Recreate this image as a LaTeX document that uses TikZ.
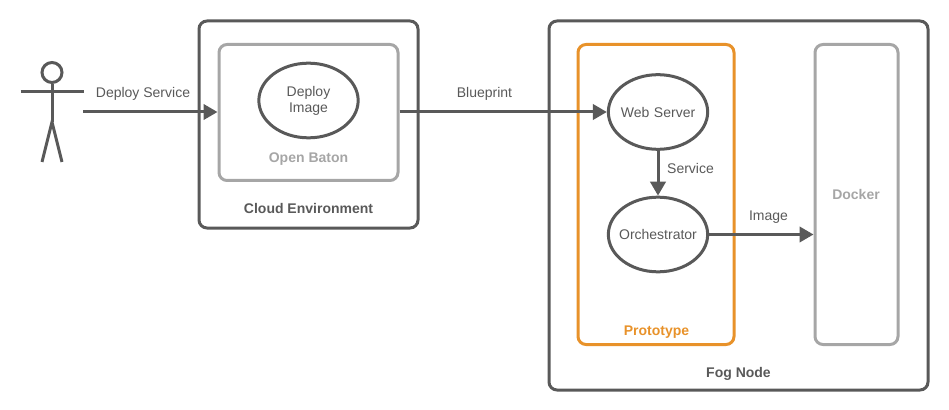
\documentclass[tikz,border=0pt]{standalone}
\usepackage{fontspec}
\setmainfont{Liberation Sans}
\usepackage{tikz}
\usetikzlibrary{arrows.meta}
\usetikzlibrary{shapes.geometric}
\definecolor{inkgray}{HTML}{595959}
\definecolor{softgray}{HTML}{A6A6A6}
\definecolor{protoorange}{HTML}{E8922A}

\begin{document}
\begin{tikzpicture}[x=75pt,y=-75pt]
    \useasboundingbox (0,0) rectangle (9.49,4.10);
    \begin{scope}[
        >={Triangle[length=10.5pt,width=11.5pt,inkgray]},
        every node/.style={font=\fontsize{10.5}{12}\selectfont,text=inkgray,align=center,inner sep=0pt},
        every edge/.style={draw=inkgray,line width=2.25pt},
        box/.style={draw,rounded corners=6pt,line width=2.25pt,minimum width=#1*75pt},
        box/.default=1,
        blob/.style={ellipse,draw=inkgray,line width=2.25pt,minimum width=74.5pt,minimum height=56pt,text width=40pt},
        stick/.style={draw=inkgray,line width=2.25pt}
        ]
        % outer boxes
        \node [box=2.19,draw=inkgray,minimum height=155.25pt] (cloud) at (3.085,1.245) {};
        \node [box=3.79,draw=inkgray,minimum height=276.75pt] (fog) at (7.385,2.055) {};
        % inner boxes
        \node [box=1.79,draw=softgray,minimum height=102pt] (baton) at (3.085,1.125) {};
        \node [box=1.56,draw=protoorange,minimum height=225pt] (proto) at (6.56,1.945) {};
        \node [box=0.83,draw=softgray,minimum height=225pt] (docker) at (8.565,1.945) {};
        % box labels
        \node [font=\fontsize{10.5}{12}\selectfont\bfseries] (cloudlabel) at (3.085,2.08) {Cloud Environment};
        \node [font=\fontsize{10.5}{12}\selectfont\bfseries] (foglabel) at (7.385,3.74) {Fog Node};
        \node [font=\fontsize{10.5}{12}\selectfont\bfseries,text=softgray] (batonlabel) at (3.085,1.59) {Open Baton};
        \node [font=\fontsize{10.5}{12}\selectfont\bfseries,text=protoorange] (protolabel) at (6.565,3.32) {Prototype};
        \node [font=\fontsize{10.5}{12}\selectfont\bfseries,text=softgray] (dockerlabel) at (8.56,1.94) {Docker};
        % ellipses
        \node [blob] (image) at (3.085,1.005) {Deploy\\Image};
        \node [blob] (web) at (6.58,1.12) {\makebox[40pt]{Web Server}};
        \node [blob] (orch) at (6.58,2.345) {\makebox[40pt]{Orchestrator}};
        % actor
        \node [circle,draw=inkgray,line width=2.25pt,minimum size=15pt] (head) at (0.52,0.725) {};
        \coordinate (hip) at (0.52,1.22);
        \coordinate (armL) at (0.205,0.92);
        \coordinate (armR) at (0.835,0.92);
        \coordinate (legL) at (0.42,1.62);
        \coordinate (legR) at (0.62,1.62);
        \coordinate (start) at (0.83,1.12);
        \draw [stick] (head) -- (hip);
        \draw [stick] (armL) -- (armR);
        \draw [stick] (legL) -- (hip) -- (legR);
        % connectors
        \path [->] (start) edge (start -| baton.west);
        \path [->] (baton.east |- web) edge (web.west);
        \path [->] (web) edge (orch);
        \path [->] (orch.east) edge (orch.east -| docker.west);
        % connector labels
        \node (deploylabel) at (1.43,0.935) {Deploy Service};
        \node (blueprintlabel) at (4.845,0.935) {Blueprint};
        \node (servicelabel) at (6.905,1.68) {Service};
        \node (imagelabel) at (7.685,2.175) {Image};
    \end{scope}
\end{tikzpicture}
\end{document}
